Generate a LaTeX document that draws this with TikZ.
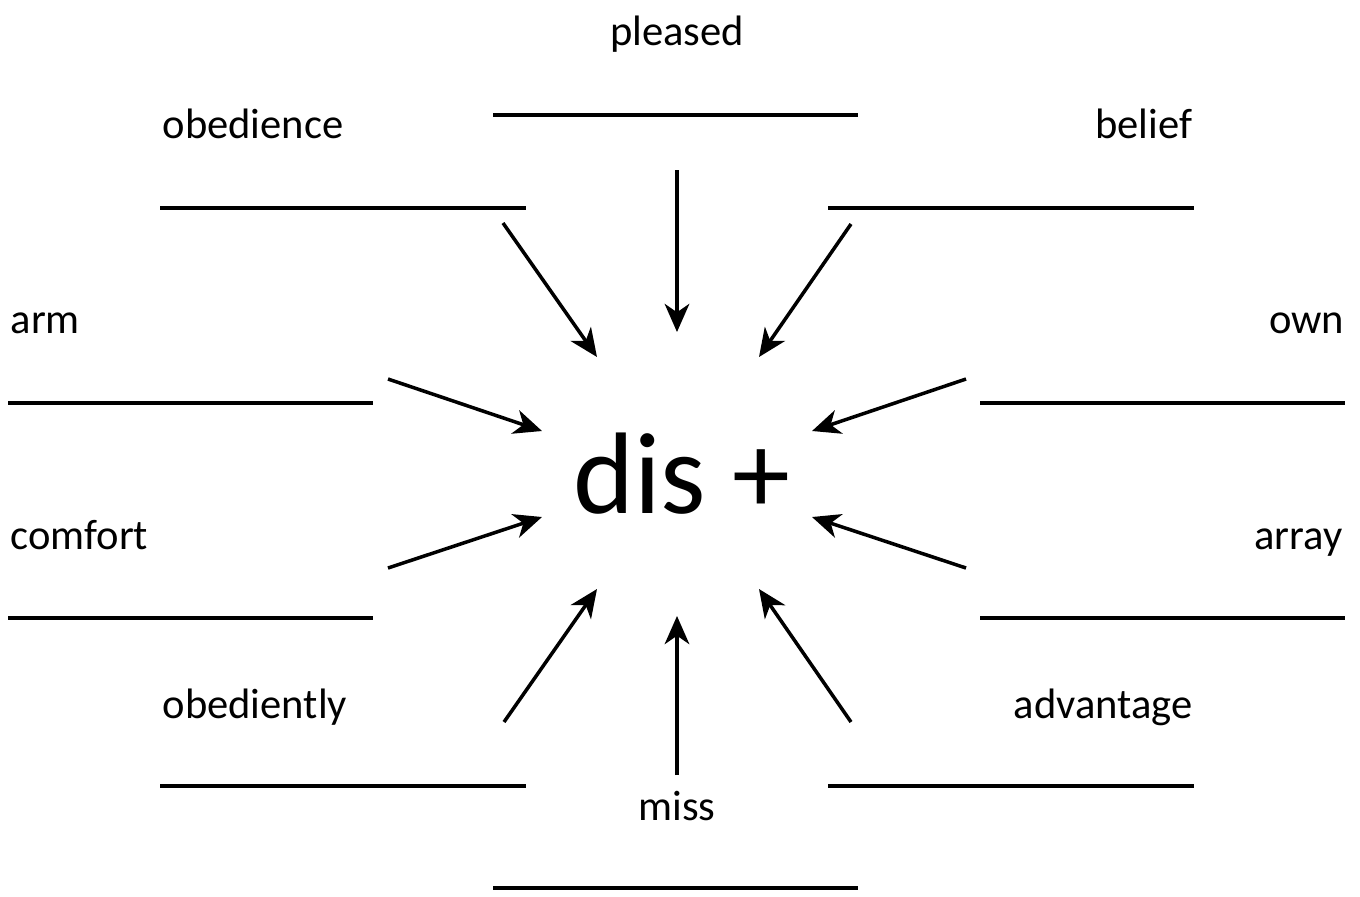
\documentclass[tikz,border=0pt]{standalone}
\usepackage{fontspec}
\setmainfont{Carlito}
\usepackage{tikz}
\usetikzlibrary{arrows.meta,positioning}
\tikzset{
  word/.style={font=\fontsize{12.1}{15}\selectfont, inner sep=0pt},
  blank/.style={line width=0.9pt},
  pointer/.style={line width=1pt, -{Stealth[length=8pt,width=7pt,inset=2.4pt]}},
}

\begin{document}
\begin{tikzpicture}[x=0.01cm, y=-0.01cm]
  \useasboundingbox (0,0) rectangle (1360,896);

  % the prefix
  \node[font=\fontsize{33}{38}\selectfont, inner sep=0pt] (dis) at (682,474) {dis +};

  % root words
  \node[word, anchor=base] (pleased) at (677,45) {pleased};
  \node[word, anchor=base west] (obedience) at (162,138) {obedience};
  \node[word, anchor=base east] (belief) at (1193,138) {belief};
  \node[word, anchor=base west] (arm) at (10,333) {arm};
  \node[word, anchor=base east] (own) at (1345,333) {own};
  \node[word, anchor=base west] (comfort) at (10,549) {comfort};
  \node[word, anchor=base east] (array) at (1343,549) {array};
  \node[word, anchor=base west] (obediently) at (162,718) {obediently};
  \node[word, anchor=base east] (advantage) at (1193,718) {advantage};
  \node[word, anchor=base] (miss) at (677,820) {miss};

  % answer lines
  \foreach \xa/\xb/\yy in {493/858/115, 160/526/208, 828/1194/208,
                           8/373/403, 980/1345/403, 8/373/618, 980/1345/618,
                           160/526/786, 828/1194/786, 493/858/888}
    \draw[blank] (\xa,\yy) -- (\xb,\yy);

  % arrows into the prefix
  \foreach \tx/\ty/\hx/\hy [count=\i] in {677/170/677/332, 503/223/597/357,
                           851/224/759/357, 388/379/542/431, 966/379/812/431,
                           388/568/542/517, 966/568/812/517, 504/722/597/589,
                           851/722/759/589, 677/775/677/616}
  {
    \coordinate (t\i) at (\tx,\ty);
    \coordinate (h\i) at (\hx,\hy);
    \draw[pointer] (t\i) -- (h\i);
  }
\end{tikzpicture}
\end{document}
